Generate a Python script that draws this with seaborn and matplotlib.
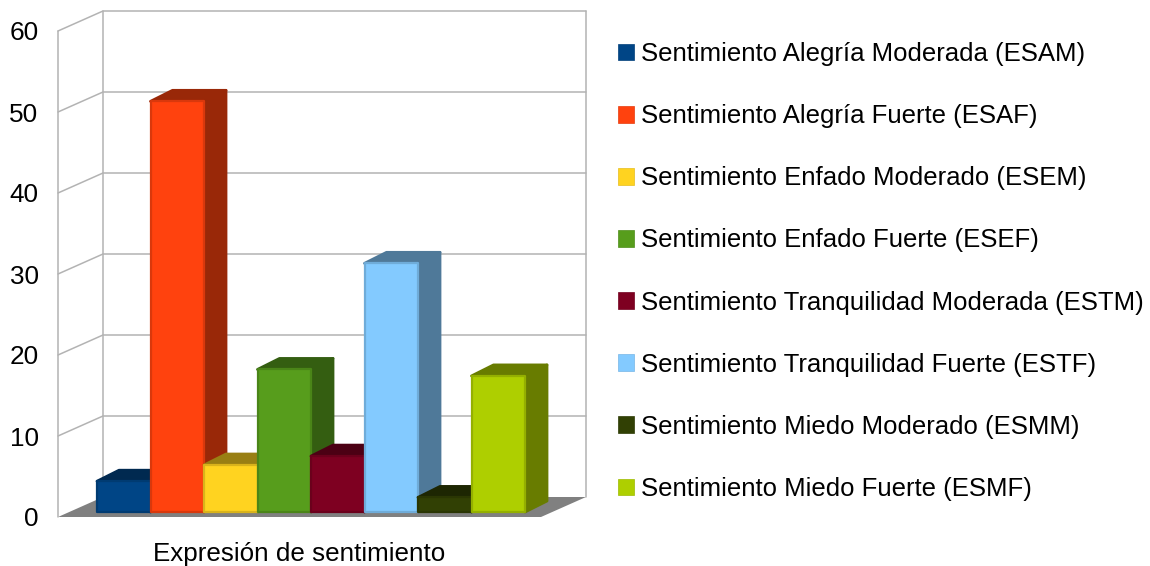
import matplotlib
matplotlib.use("Agg")
import matplotlib.pyplot as plt
from matplotlib.colors import to_rgb
from matplotlib.patches import Patch, Polygon
import pandas as pd
import seaborn as sns

labels = [
    "Sentimiento Alegría Moderada (ESAM)",
    "Sentimiento Alegría Fuerte (ESAF)",
    "Sentimiento Enfado Moderado (ESEM)",
    "Sentimiento Enfado Fuerte (ESEF)",
    "Sentimiento Tranquilidad Moderada (ESTM)",
    "Sentimiento Tranquilidad Fuerte (ESTF)",
    "Sentimiento Miedo Moderado (ESMM)",
    "Sentimiento Miedo Fuerte (ESMF)",
]
values = [3.8, 50.7, 5.8, 17.6, 6.9, 30.7, 1.8, 16.8]
colors = ["#004586", "#ff420e", "#ffd320", "#579d1c", "#7e0021", "#83caff", "#314004", "#aecf00"]
y_ticks = [0, 10, 20, 30, 40, 50, 60]

W, H = 1150, 566
GRID = "#b3b3b3"


def px_axes(fig, left, right, top, bottom, **kwargs):
    return fig.add_axes([left / W, 1 - bottom / H, (right - left) / W, (bottom - top) / H], **kwargs)


def shade(color, factor):
    return tuple(c * factor for c in to_rgb(color))


sns.set_theme(style="white")
plt.rcParams["font.family"] = ["Liberation Sans", "DejaVu Sans"]

fig = plt.figure(figsize=(W / 100, H / 100), dpi=100, facecolor="white")

# front plane of the chart box: walls and floor hang off this one
ax = px_axes(fig, 58, 541, 31, 517)
ax.set_xlim(0, 1)
ax.set_ylim(0, 60)
ax.patch.set_alpha(0)
sns.despine(ax=ax, left=True, bottom=True)
ax.set_yticks(y_ticks)
ax.set_xticks([])
ax.tick_params(axis="y", length=0, pad=14, labelsize=18.8, labelcolor="black")

wall_dx = 45 / 483
wall_dy = 20 / 8.1

ax.add_patch(Polygon(
    [(0, 0), (wall_dx, wall_dy), (1 + wall_dx, wall_dy), (1, 0)],
    closed=True, facecolor="#808080", edgecolor="none", clip_on=False, zorder=1,
))
for v in y_ticks[1:]:
    ax.plot([0, wall_dx, 1 + wall_dx], [v, v + wall_dy, v + wall_dy],
            color=GRID, lw=1.1, clip_on=False, zorder=1)
ax.plot([0, 0], [0, 60], color=GRID, lw=1.1, clip_on=False, zorder=1)
ax.plot([wall_dx, wall_dx], [wall_dy, 60 + wall_dy], color=GRID, lw=1.1, clip_on=False, zorder=1)
ax.plot([1 + wall_dx, 1 + wall_dx], [wall_dy, 60 + wall_dy], color=GRID, lw=1.1, clip_on=False, zorder=1)
ax.set_xlabel("Expresión de sentimiento", fontsize=18.75, color="black")
ax.xaxis.set_label_coords((299 - 58) / 483, -0.051)

# bars sit a little inside the box, so they get their own plane
bar_ax = px_axes(fig, 97, 525, 26, 512)
bar_ax.patch.set_alpha(0)
df = pd.DataFrame({"serie": labels, "valor": values})
sns.barplot(data=df, x="serie", y="valor", hue="serie", order=labels, hue_order=labels,
            palette=colors, saturation=1, width=1, dodge=False, legend=False, ax=bar_ax)
bar_ax.set_xlim(-0.5, 7.5)
bar_ax.set_ylim(0, 60)
bar_ax.axis("off")

bar_dx = 22 / (428 / 8)
bar_dy = 11 / 8.1

bars = [p for p in bar_ax.patches if p.get_height() > 0]
bars.sort(key=lambda p: p.get_x())
for i, (bar, color) in enumerate(zip(bars, colors)):
    x0 = bar.get_x()
    x1 = x0 + bar.get_width()
    h = bar.get_height()
    z = 3 + i
    edge = dict(joinstyle="round", clip_on=False, zorder=z)
    bar_ax.add_patch(Polygon(
        [(x1, 0), (x1 + bar_dx, bar_dy), (x1 + bar_dx, h + bar_dy), (x1, h)],
        closed=True, facecolor=shade(color, 0.6), edgecolor=shade(color, 0.6), lw=2, **edge,
    ))
    bar_ax.add_patch(Polygon(
        [(x0, h), (x0 + bar_dx, h + bar_dy), (x1 + bar_dx, h + bar_dy), (x1, h)],
        closed=True, facecolor=shade(color, 0.6), edgecolor=shade(color, 0.6), lw=2, **edge,
    ))
    bar.set_edgecolor(shade(color, 0.85))
    bar.set_linewidth(1.6)
    bar.set_joinstyle("round")
    bar.set_clip_on(False)
    bar.set_zorder(z + 0.5)

handles = [Patch(facecolor=c, edgecolor=shade(c, 0.9), lw=0.5) for c in colors]
fig.legend(
    handles, labels,
    loc="upper left", bbox_to_anchor=(618 / W, 1 - 42 / H), borderaxespad=0, borderpad=0,
    frameon=False, fontsize=18.5, labelcolor="black",
    handlelength=0.63, handleheight=0.63, handletextpad=0.26, labelspacing=1.485,
)

fig.savefig("out.png", dpi=100)
